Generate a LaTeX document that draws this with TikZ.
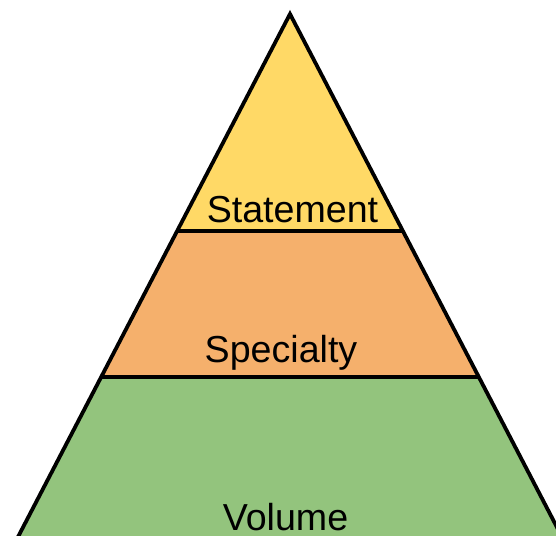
\documentclass[tikz,border=0pt]{standalone}
\usepackage{fontspec}
\setmainfont{Liberation Sans}
\usetikzlibrary{positioning}

\definecolor{topyellow}{HTML}{FFD966}
\definecolor{midorange}{HTML}{F5B06C}
\definecolor{basegreen}{HTML}{93C47D}

\begin{document}
\begin{tikzpicture}[x=0.5pt, y=-0.5pt, edge/.style={line width=1.9pt, line join=miter}, every node/.style={font=\fontsize{18.8}{22}\selectfont, anchor=base, inner sep=0pt}]

        \clip (0,0) rectangle (556,535);

        \coordinate (apex) at (290,14);
        \coordinate (l1) at (177,231);
        \coordinate (r1) at (403,231);
        \coordinate (l2) at (101,377);
        \coordinate (r2) at (479,377);
        \coordinate (l3) at (6,560);
        \coordinate (r3) at (574,560);

        \fill[basegreen] (l2) -- (r2) -- (r3) -- (l3) -- cycle;
        \fill[midorange] (l1) -- (r1) -- (r2) -- (l2) -- cycle;
        \fill[topyellow] (apex) -- (r1) -- (l1) -- cycle;

        \draw[edge] (l1) -- (r1);
        \draw[edge] (l2) -- (r2);
        \draw[edge] (l3) -- (apex) -- (r3);

        \node (statement) at (292.5,222) {Statement};
        \node (specialty) at (281,362) {Specialty};
        \node (volume) at (285.5,530) {Volume};

        \end{tikzpicture}
\end{document}
